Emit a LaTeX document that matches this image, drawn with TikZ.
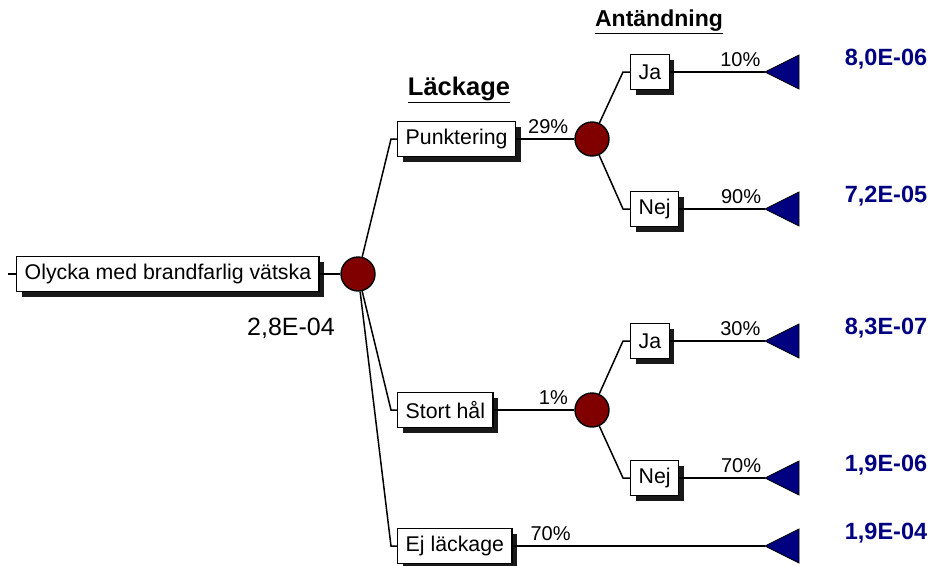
\documentclass[tikz,border=0pt]{standalone}
\usepackage{fontspec}
\setmainfont{Liberation Sans}
\usetikzlibrary{calc}
\usetikzlibrary{shadows}
\definecolor{chance}{RGB}{128,0,0}
\definecolor{endcol}{RGB}{0,0,128}
\tikzset{
 box/.style={draw, fill=white, line width=1.4pt, minimum height=35pt, inner xsep=8pt, anchor=west,
   font=\fontsize{21.3}{21.3}\selectfont,
   drop shadow={shadow xshift=5pt, shadow yshift=-5pt, fill=black, opacity=.9}},
 chancenode/.style={circle, draw, line width=1.4pt, fill=chance, minimum size=34pt, inner sep=0pt},
 prob/.style={font=\fontsize{20}{20}\selectfont},
 result/.style={font=\bfseries\fontsize{23.5}{23.5}\selectfont, text=endcol},
 head/.style={font=\bfseries\fontsize{23}{23}\selectfont},
 branch/.style={line width=1.5pt}
}

\begin{document}
\begin{tikzpicture}[x=1pt, y=-1pt]
\useasboundingbox (0,0) rectangle (934,565);
\coordinate (in) at (8,274);
\node[box] (root) at (16,274) {Olycka med brandfarlig vätska};
\node[chancenode] (c1) at (358,274) {};
\node[box] (punk) at (397,139) {Punktering};
\node[box] (stort) at (397,410) {Stort hål};
\node[box] (ej) at (397,546) {Ej läckage};
\node[chancenode] (c2) at (592,139) {};
\node[chancenode] (c3) at (592,410) {};
\node[box] (ja1) at (630,72) {Ja};
\node[box] (nej1) at (630,209) {Nej};
\node[box] (ja2) at (630,341) {Ja};
\node[box] (nej2) at (630,478) {Nej};
% headings and texts
\node[head, font=\bfseries\fontsize{25.5}{25.5}\selectfont] (hlack) at (459,90) {\underline{Läckage}};
\node[head] (hant) at (659,22) {\underline{Antändning}};
\node[font=\fontsize{25}{25}\selectfont] (tot) at (291,328) {2,8E-04};
% end points
\foreach \n/\y in {t1/72, t2/209, t3/341, t4/478, t5/546}
 \coordinate (\n) at (765,\y);
\foreach \n/\v in {t1/{8,0E-06}, t2/{7,2E-05}, t3/{8,3E-07}, t4/{1,9E-06}, t5/{1,9E-04}} {
 \filldraw[endcol, draw=black, line width=.8pt] (\n) -- ++(34,-17) -- ++(0,34) -- cycle;
 \node[result] at ($(\n)+(121,-13)$) {\v};
}
% branches
\draw[branch] (in) -- (root);
\draw[branch] (root) -- (c1);
\foreach \b in {punk, stort, ej}
 \draw[branch] (c1) -- ([xshift=-6pt]\b.west) -- (\b.west);
\draw[branch] (punk) -- (c2) node[prob, pos=.55, above=1pt] {29\%};
\draw[branch] (stort) -- (c3) node[prob, pos=.74, above=1pt] {1\%};
\draw[branch] (ej) -- (t5) node[prob, pos=.15, above=1pt] {70\%};
\draw[branch] (c2) -- ([xshift=-7pt]ja1.west) -- (ja1.west);
\draw[branch] (c2) -- ([xshift=-7pt]nej1.west) -- (nej1.west);
\draw[branch] (c3) -- ([xshift=-7pt]ja2.west) -- (ja2.west);
\draw[branch] (c3) -- ([xshift=-7pt]nej2.west) -- (nej2.west);
\draw[branch] (ja1) -- (t1) node[prob, pos=.74, above=1pt] {10\%};
\draw[branch] (nej1) -- (t2) node[prob, pos=.72, above=1pt] {90\%};
\draw[branch] (ja2) -- (t3) node[prob, pos=.74, above=1pt] {30\%};
\draw[branch] (nej2) -- (t4) node[prob, pos=.72, above=1pt] {70\%};
\end{tikzpicture}
\end{document}
